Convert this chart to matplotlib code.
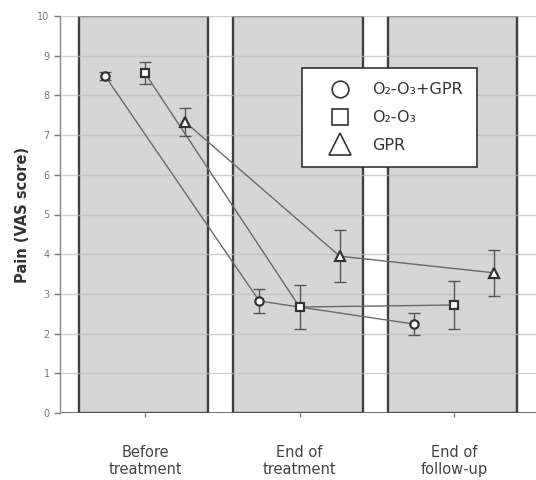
import numpy as np
import matplotlib.pyplot as plt
from matplotlib.patches import Rectangle

# data
periods = ["Before\ntreatment", "End of\ntreatment", "End of\nfollow-up"]
groups = ["O\u2082-O\u2083+GPR", "O\u2082-O\u2083", "GPR"]
markers = ["o", "s", "^"]
offsets = [-0.26, 0.0, 0.26]

vas_combo = [8.5, 2.82, 2.24]
err_combo = [0.1, 0.3, 0.27]
vas_ozone = [8.56, 2.67, 2.72]
err_ozone = [0.28, 0.55, 0.6]
vas_gpr = [7.33, 3.95, 3.53]
err_gpr = [0.36, 0.65, 0.58]

means = [vas_combo, vas_ozone, vas_gpr]
errs = [err_combo, err_ozone, err_gpr]
yticks = list(range(0, 11))

fig = plt.figure(figsize=(5.36, 4.8), dpi=100)
ax = fig.add_axes([60/536, 67/480, 476/536, 397/480])

x = np.arange(len(periods))

# gray boxes for each period
for xi in x:
    ax.add_patch(Rectangle((xi - 0.43, 0), 0.84, 10, facecolor="#d6d6d6",
                           edgecolor="#3f3f3f", lw=1.7, zorder=1))

# horizontal grid lines over everything
for yv in yticks[1:]:
    ax.axhline(yv, color="#bdbdbd", lw=1.0, alpha=0.7, zorder=2)
ax.axhline(0, color="#555555", lw=1.2, zorder=2)

handles = []
for m, off, ys, es, lab in zip(markers, offsets, means, errs, groups):
    xs = x + off
    ax.plot(xs, ys, color="#6a6a6a", lw=1.0, zorder=3)
    ax.errorbar(xs, ys, yerr=es, fmt="none", ecolor="#555555", elinewidth=1.0,
                capsize=4, capthick=1.0, zorder=4)
    ms = 6 if m != "^" else 7
    ax.plot(xs, ys, marker=m, ls="none", ms=ms, mfc="white", mec="#333333",
            mew=1.6, zorder=5)
    h, = ax.plot([], [], marker=m, ls="none", ms=12 if m != "^" else 16,
                 mfc="white", mec="#333333", mew=1.2, label=lab)
    handles.append(h)

leg = ax.legend(handles=handles, loc="upper left", bbox_to_anchor=(0.508, 0.869),
                fontsize=11.5, frameon=True, fancybox=False, framealpha=1,
                edgecolor="#333333", borderpad=0.9, labelspacing=0.8,
                handletextpad=0.5, borderaxespad=0, handlelength=3.0)
leg.get_frame().set_linewidth(1.2)
leg.set_zorder(10)
for t in leg.get_texts():
    t.set_color("#333333")

ax.set_xlim(-0.55, 2.53)
ax.set_ylim(0, 10)
ax.set_yticks(yticks)
ax.set_xticks(x)
ax.set_xticklabels(periods, fontsize=10.5, color="#444444")
ax.tick_params(axis="y", labelsize=7, colors="#777777", length=4, width=1)
ax.tick_params(axis="x", length=3, width=1, colors="#777777", pad=20)
for lab in ax.get_xticklabels():
    lab.set_color("#444444")

for s in ["top", "right", "bottom"]:
    ax.spines[s].set_visible(False)
ax.spines["left"].set_color("#888888")
ax.spines["left"].set_linewidth(1.0)

ax.set_ylabel("Pain (VAS score)", fontsize=10.5, fontweight="bold", color="#333333")
ax.yaxis.set_label_coords(-0.063, 0.5)

fig.savefig("out.png", dpi=100, facecolor="white")
